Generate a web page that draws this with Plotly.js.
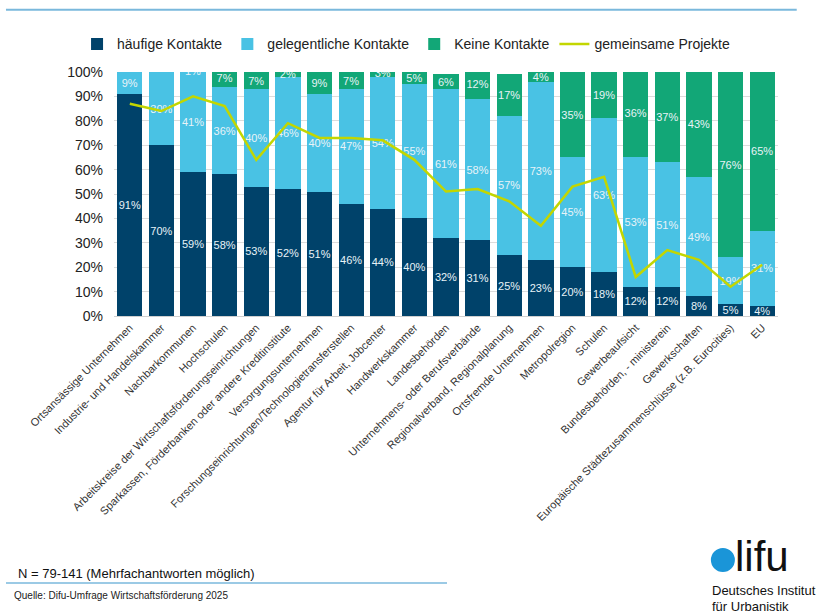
<!DOCTYPE html>
<html>
<head>
<meta charset="utf-8">
<script src="https://cdn.plot.ly/plotly-3.0.1.min.js"></script>
<style>body{margin:0;background:#fff}#plot{width:817px;height:615px}</style>
</head>
<body>
<div id="plot"></div>
<script>
const categories=["Ortsansässige Unternehmen","Industrie- und Handelskammer","Nachbarkommunen","Hochschulen",
  "Arbeitskreise der Wirtschaftsförderungseinrichtungen","Sparkassen, Förderbanken oder andere Kreditinstitute",
  "Versorgungsunternehmen","Forschungseinrichtungen/Technologietransferstellen","Agentur für Arbeit, Jobcenter",
  "Handwerkskammer","Landesbehörden","Unternehmens- oder Berufsverbände","Regionalverband, Regionalplanung",
  "Ortsfremde Unternehmen","Metropolregion","Schulen","Gewerbeaufsicht","Bundesbehörden, - ministerein",
  "Gewerkschaften","Europäische Städtezusammenschlüsse (z.B. Eurocities)","EU"];
const haeufig=[91,70,59,58,53,52,51,46,44,40,32,31,25,23,20,18,12,12,8,5,4];
const gelegentlich=[9,30,41,36,40,46,40,47,54,55,61,58,57,73,45,63,53,51,49,19,31];
const keine=[0,0,1,7,7,2,9,7,3,5,6,12,17,4,35,19,36,37,43,76,65];
const projekte=[87,84,90,86,64,79,73,73,72,64,51,52,47,37,53,57,16,27,23,12,21];

const fontMain="Liberation Sans, Arial, sans-serif";
const fontNarrow="Liberation Sans Narrow, Arial Narrow, Liberation Sans, sans-serif";

function labels(vals){return vals.map(v=>v>0?v+"%":"");}
function barTrace(vals,name,color){
  return {x:categories,y:vals,name:name,type:"bar",marker:{color:color},
    text:labels(vals),textposition:"inside",insidetextanchor:"middle",textangle:0,constraintext:"none",
    textfont:{color:"#e8f3f8",size:11,family:fontMain},hoverinfo:"skip"};
}
let trace1=barTrace(haeufig,"häufige Kontakte","#00426a");
let trace2=barTrace(gelegentlich,"gelegentliche Kontakte","#49c2e4");
let trace3=barTrace(keine,"Keine Kontakte","#12a777");
let trace4={x:categories,y:projekte,name:"gemeinsame Projekte",type:"scatter",mode:"lines",
  line:{color:"#c3d600",width:2.5}};

// paper y for a pixel row: (316 - px) / 244
let layout={
  width:817,height:615,paper_bgcolor:"#fff",plot_bgcolor:"#fff",
  margin:{l:114,r:39,t:72,b:299},
  barmode:"stack",bargap:0.2,
  font:{family:fontMain,color:"#333"},
  showlegend:true,
  legend:{orientation:"h",xref:"container",yref:"container",x:0.497,xanchor:"center",y:0.928,yanchor:"middle",
    font:{family:fontNarrow,size:14,color:"#222"},traceorder:"normal",itemwidth:30},
  xaxis:{tickangle:-45,tickfont:{size:11,color:"#333"},showgrid:false,ticks:"",automargin:false,
    showline:true,linecolor:"#d0d0d0"},
  yaxis:{range:[0,100],dtick:10,ticksuffix:"%",tickfont:{size:14,color:"#222"},gridcolor:"#dcdcdc",
    zeroline:false,automargin:false,fixedrange:true,ticklabelstandoff:10},
  shapes:[
    {type:"line",xref:"paper",yref:"paper",x0:-0.1627,x1:1.0282,y0:1.2555,y1:1.2555,line:{color:"#7ab8dc",width:2}},
    {type:"line",xref:"paper",yref:"paper",x0:-0.1627,x1:0.5015,y0:-1.094,y1:-1.094,line:{color:"#7ab8dc",width:1.5}},
    {type:"circle",xref:"paper",yref:"paper",xsizemode:"pixel",ysizemode:"pixel",xanchor:0.917,yanchor:-1.0,
      x0:-12,x1:12,y0:-12,y1:12,fillcolor:"#1a95d8",line:{width:0}}
  ],
  annotations:[
    {xref:"paper",yref:"paper",x:-0.148,y:-1.057,xanchor:"left",yanchor:"middle",showarrow:false,
      text:"N = 79-141 (Mehrfachantworten möglich)",font:{family:fontNarrow,size:13,color:"#111"}},
    {xref:"paper",yref:"paper",x:-0.154,y:-1.1475,xanchor:"left",yanchor:"middle",showarrow:false,
      text:"Quelle: Difu-Umfrage Wirtschaftsförderung 2025",font:{family:fontNarrow,size:10,color:"#222"}},
    {xref:"paper",yref:"paper",x:0.932,y:-0.985,xanchor:"left",yanchor:"middle",showarrow:false,
      text:"lifu",font:{family:fontNarrow,size:42,color:"#111"}},
    {xref:"paper",yref:"paper",x:0.898,y:-1.127,xanchor:"left",yanchor:"middle",showarrow:false,align:"left",
      text:"Deutsches Institut",font:{family:fontNarrow,size:13,color:"#111"}},
    {xref:"paper",yref:"paper",x:0.898,y:-1.189,xanchor:"left",yanchor:"middle",showarrow:false,align:"left",
      text:"für Urbanistik",font:{family:fontNarrow,size:13,color:"#111"}}
  ]
};

Plotly.newPlot("plot",[trace1,trace2,trace3,trace4],layout,{displayModeBar:false,staticPlot:true});
</script>
</body>
</html>
